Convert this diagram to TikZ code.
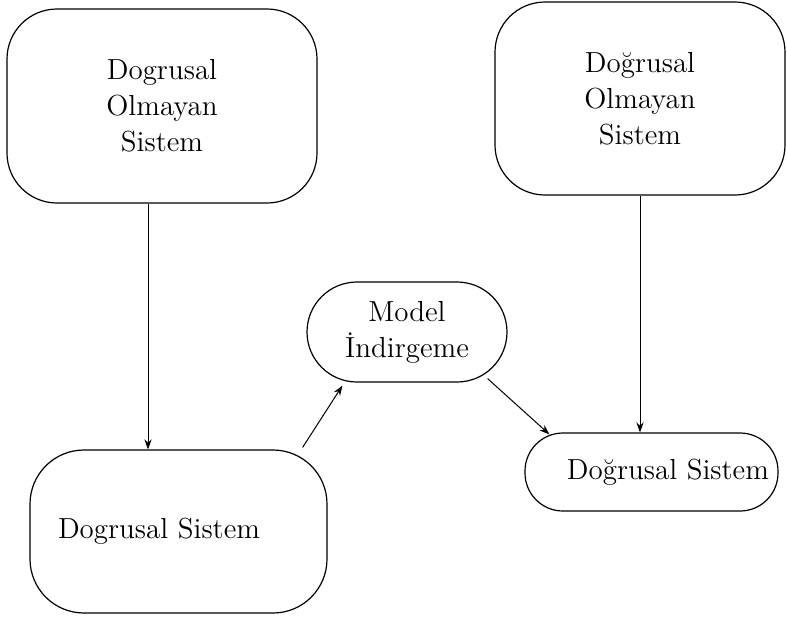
\documentclass[tikz,border=0pt]{standalone}
\usepackage{fontspec}
\usetikzlibrary{arrows.meta,calc}
\begin{document}
\begin{tikzpicture}[x=0.5pt,y=-0.5pt,
  box/.style={draw, line width=0.6pt, align=center, font=\fontsize{14.5}{18}\selectfont},
  arr/.style={-{Stealth[length=5pt,width=3.6pt]}, line width=0.5pt}]
\useasboundingbox (0,0) rectangle (787,617);
\node[box, minimum width=155pt, minimum height=97pt, rounded corners=25pt] (A) at (162,106) {Dogrusal\\Olmayan\\Sistem};
\node[box, minimum width=145pt, minimum height=96.5pt, rounded corners=25pt] (B) at (640,98.5) {Doğrusal\\Olmayan\\Sistem};
\node[box, text width=120.5pt, inner xsep=14pt, align=left, minimum height=81.5pt, rounded corners=27pt] (C) at (178.5,531.5) {Dogrusal Sistem};
\node[box, text width=117.5pt, inner xsep=4.5pt, align=right, minimum height=39pt, rounded corners=19pt] (D) at (651.5,472) {Doğrusal Sistem};
\node[box, minimum width=100pt, minimum height=50pt, rounded corners=25pt] (M) at (407,332) {Model\\İndirgeme};
\draw[arr] ([xshift=-7pt]A.south) -- ([xshift=-7pt]A.south |- C.north);
\draw[arr] (B.south) -- (B.south |- D.north);
\draw[arr] ($(C.north east)+(-12.5pt,1pt)$) -- ($(M.south west)+(18pt,-1.5pt)$);
\draw[arr] ($(M.south east)+(-10pt,2pt)$) -- ($(D.north west)+(12.5pt,-1pt)$);
\end{tikzpicture}
\end{document}
